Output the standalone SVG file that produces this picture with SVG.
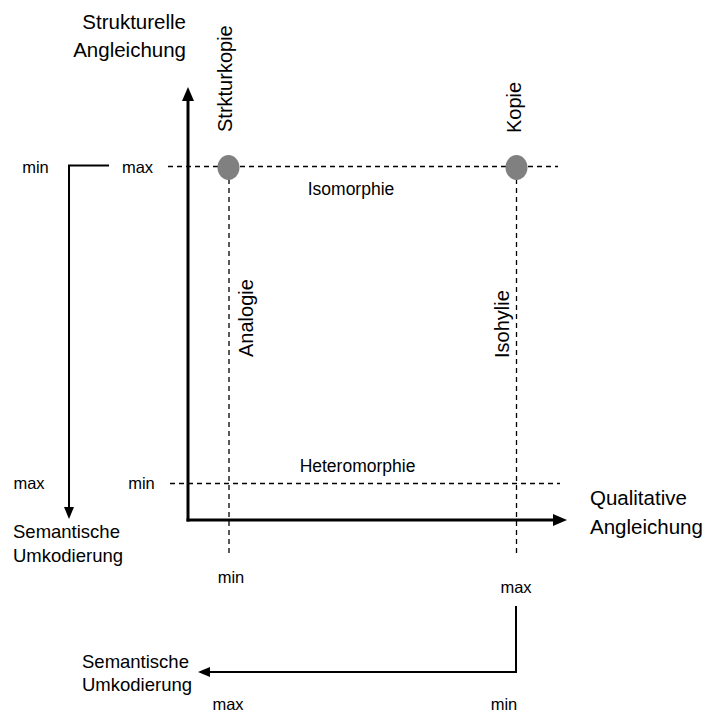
<svg xmlns="http://www.w3.org/2000/svg" width="706" height="712" viewBox="0 0 706 712">
  <style>
    text { font-family: "Liberation Sans", Arial, Helvetica, sans-serif; fill: #000; }
    .big { font-size: 20.5px; }
    .sem { font-size: 18.5px; }
    .mid { font-size: 17.5px; }
    .small { font-size: 16.5px; }
    .rot { font-size: 20px; }
    .axis { stroke: #000; stroke-width: 3; fill: none; }
    .thin { stroke: #000; stroke-width: 2; fill: none; }
    .dash { stroke: #000; stroke-width: 1.3; fill: none; stroke-dasharray: 5 4; }
    .point { fill: #808080; }
  </style>
  <defs>
    <marker id="axisHead" markerUnits="userSpaceOnUse" markerWidth="14" markerHeight="12" refX="4" refY="6" orient="auto">
      <path d="M0,0 L14,6 L0,12 z" fill="#000"/>
    </marker>
    <marker id="thinHead" markerUnits="userSpaceOnUse" markerWidth="12" markerHeight="10" refX="3" refY="5" orient="auto">
      <path d="M0,0 L12,5 L0,10 z" fill="#000"/>
    </marker>
  </defs>

  <rect width="706" height="712" fill="#fff"/>

  <!-- connectors: axes, reference lines and scale arrows -->
  <g id="connectors">
    <!-- main axes -->
    <line class="axis" x1="188" y1="521.5" x2="188" y2="97" marker-end="url(#axisHead)"/>
    <line class="axis" x1="186.5" y1="520" x2="557" y2="520" marker-end="url(#axisHead)"/>
    <!-- dashed reference lines -->
    <line class="dash" x1="168" y1="166.5" x2="558" y2="166.5"/>
    <line class="dash" x1="170" y1="483.5" x2="560" y2="483.5"/>
    <line class="dash" x1="229" y1="170" x2="229" y2="556"/>
    <line class="dash" x1="516.5" y1="170" x2="516.5" y2="556"/>
    <!-- semantic recoding scales -->
    <path class="thin" d="M109,165.5 H69 V510" marker-end="url(#thinHead)"/>
    <path class="thin" d="M516,606 V672 H207" marker-end="url(#thinHead)"/>
  </g>

  <!-- axis labels -->
  <g id="y-axis-label">
    <text class="big" x="186" y="29" text-anchor="end">Strukturelle</text>
    <text class="big" x="186" y="57" text-anchor="end">Angleichung</text>
  </g>
  <g id="x-axis-label">
    <text class="big" x="590" y="505">Qualitative</text>
    <text class="big" x="590" y="534">Angleichung</text>
  </g>
  <g id="semantic-left">
    <text class="sem" x="13" y="538">Semantische</text>
    <text class="sem" x="13" y="561.5">Umkodierung</text>
    <text class="small" x="35.5" y="173" text-anchor="middle">min</text>
    <text class="small" x="29" y="489" text-anchor="middle">max</text>
  </g>
  <g id="semantic-bottom">
    <text class="sem" x="82" y="668">Semantische</text>
    <text class="sem" x="82" y="691">Umkodierung</text>
    <text class="small" x="228" y="710" text-anchor="middle">max</text>
    <text class="small" x="504" y="710" text-anchor="middle">min</text>
  </g>

  <!-- scale ends on the axes -->
  <g id="scale-labels">
    <text class="small" x="137.5" y="173" text-anchor="middle">max</text>
    <text class="small" x="141.5" y="489" text-anchor="middle">min</text>
    <text class="small" x="231" y="583" text-anchor="middle">min</text>
    <text class="small" x="516" y="593" text-anchor="middle">max</text>
  </g>

  <!-- line labels -->
  <g id="isomorphie">
    <text class="mid" x="351" y="195" text-anchor="middle">Isomorphie</text>
  </g>
  <g id="heteromorphie">
    <text class="mid" x="357.5" y="472" text-anchor="middle">Heteromorphie</text>
  </g>
  <g id="analogie">
    <text class="rot" transform="translate(252.5,357) rotate(-90)">Analogie</text>
  </g>
  <g id="isohylie">
    <text class="rot" transform="translate(509,358) rotate(-90)">Isohylie</text>
  </g>

  <!-- points -->
  <g id="strkturkopie">
    <ellipse class="point" cx="228.5" cy="167.5" rx="11" ry="12.5"/>
    <text class="rot" transform="translate(232,132) rotate(-90)">Strkturkopie</text>
  </g>
  <g id="kopie">
    <ellipse class="point" cx="516.5" cy="167.5" rx="11" ry="12.5"/>
    <text class="rot" transform="translate(521,133) rotate(-90)">Kopie</text>
  </g>
</svg>
